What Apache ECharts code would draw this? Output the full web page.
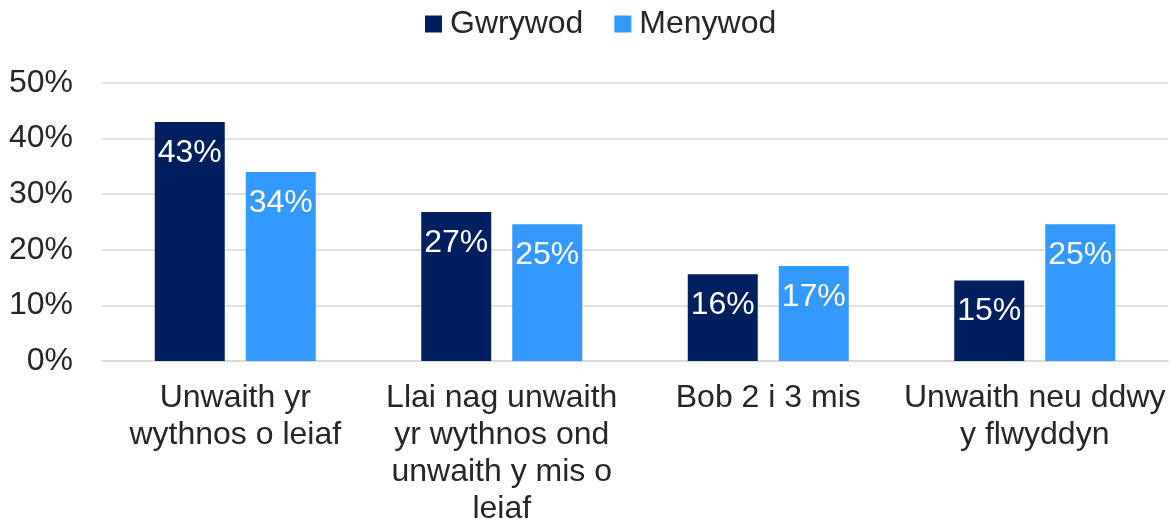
<!DOCTYPE html>
<html>
<head>
<meta charset="utf-8">
<script src="https://cdn.jsdelivr.net/npm/echarts@6/dist/echarts.min.js"></script>
<style>
  html, body { margin: 0; padding: 0; background: #fff; }
  #main { width: 1171px; height: 522px; }
</style>
</head>
<body>
<div id="main"></div>
<script>
// categories and values
var categories = [
  'Unwaith yr\nwythnos o leiaf',
  'Llai nag unwaith\nyr wythnos ond\nunwaith y mis o\nleiaf',
  'Bob 2 i 3 mis',
  'Unwaith neu ddwy\ny flwyddyn'
];
var gwrywod = [43, 26.8, 15.6, 14.5];
var menywod = [34, 24.6, 17.1, 24.6];
var yTicks = [0, 10, 20, 30, 40, 50];

var font = "'Liberation Sans', Arial, sans-serif";
var txt = '#262626';

var myChart = echarts.init(document.getElementById('main'));

function pct(p) { return Math.round(p.value) + '%'; }

myChart.setOption({
  animation: false,
  legend: {
    top: 8,
    left: 425,
    padding: 0,
    itemWidth: 17,
    itemHeight: 17,
    itemGap: 31,
    icon: 'rect',
    textStyle: { fontFamily: font, fontSize: 32, color: txt, padding: [0, 0, 14, 3] },
    data: ['Gwrywod', 'Menywod']
  },
  grid: {
    left: 102, right: 3, top: 83, bottom: 161,
    containLabel: false, outerBoundsMode: 'none'
  },
  xAxis: {
    type: 'category',
    data: categories,
    axisTick: { show: false },
    axisLine: { lineStyle: { color: '#d9d9d9', width: 1.5 } },
    axisLabel: {
      interval: 0,
      margin: 19,
      fontFamily: font,
      fontSize: 32,
      lineHeight: 37,
      color: txt,
      align: 'center'
    }
  },
  yAxis: {
    type: 'value',
    min: yTicks[0],
    max: yTicks[yTicks.length - 1],
    interval: 10,
    axisLine: { show: false },
    axisTick: { show: false },
    splitLine: { lineStyle: { color: '#d9d9d9', width: 1.5 } },
    axisLabel: {
      margin: 29,
      fontFamily: font,
      fontSize: 32,
      color: txt,
      formatter: '{value}%'
    }
  },
  series: [
    {
      name: 'Gwrywod',
      type: 'bar',
      data: gwrywod,
      barWidth: 70,
      barGap: '30%',
      itemStyle: { color: '#001f5f' },
      label: {
        show: true, position: 'insideTop', distance: 15,
        color: '#fff', fontFamily: font, fontSize: 32, formatter: pct
      }
    },
    {
      name: 'Menywod',
      type: 'bar',
      data: menywod,
      barWidth: 70,
      itemStyle: { color: '#3399ff' },
      label: {
        show: true, position: 'insideTop', distance: 15,
        color: '#fff', fontFamily: font, fontSize: 32, formatter: pct
      }
    }
  ]
});
</script>
</body>
</html>
